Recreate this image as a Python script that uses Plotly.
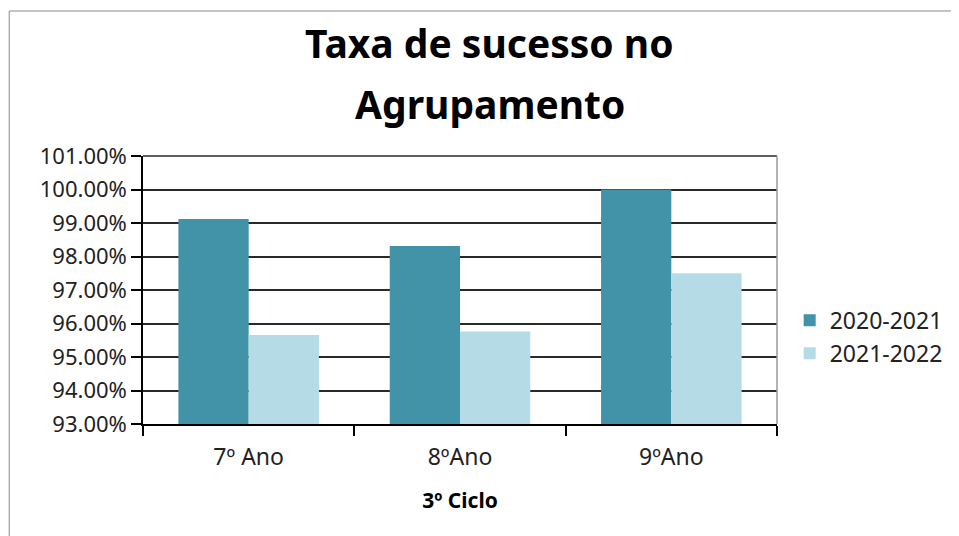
import plotly.graph_objects as go

# data (success rate, 3º ciclo)
anos = ['7º Ano', '8ºAno', '9ºAno']
taxa_2020_2021 = [0.9912, 0.9831, 1.0000]
taxa_2021_2022 = [0.9566, 0.9576, 0.9750]
y_ticks = [0.93, 0.94, 0.95, 0.96, 0.97, 0.98, 0.99, 1.00, 1.01]
titulo = ['Taxa de sucesso no', 'Agrupamento']

FONT = 'Noto Sans, sans-serif'

fig = go.Figure()
fig.add_trace(go.Bar(name='2020-2021', x=anos, y=taxa_2020_2021,
	marker=dict(color='#4292a8', line=dict(width=0))))
fig.add_trace(go.Bar(name='2021-2022', x=anos, y=taxa_2021_2022,
	marker=dict(color='#b5dce6', line=dict(width=0))))

# page body has an 8px margin, so the plot box is offset by that
fig.update_layout(
	barmode='group',
	bargap=0.335,
	bargroupgap=0,
	width=959, height=536,
	margin=dict(l=135, r=190, t=148, b=120, autoexpand=False),
	paper_bgcolor='white', plot_bgcolor='white',
	font=dict(family=FONT, size=22, color='#222'),
	legend=dict(x=1.02, xanchor='left', y=0.325, yanchor='middle',
		font=dict(size=23), itemwidth=30),
	showlegend=True,
)

# two-line title, placed as annotations (pixel rows ~42 and ~103)
for linha, ypx in zip(titulo, [42, 103]):
	fig.add_annotation(text=f'<b>{linha}</b>', xref='paper', yref='paper',
		x=0.547, y=(424 - ypx) / 268, xanchor='center', yanchor='middle',
		showarrow=False, font=dict(size=39, color='black', family=FONT))

fig.update_yaxes(range=[0.93, 1.01], tickvals=y_ticks, tickformat='.2%',
	showgrid=True, gridcolor='#2a2a2a', gridwidth=1.5,
	showline=True, linecolor='black', linewidth=1.5,
	ticks='outside', ticklen=10, tickcolor='black', tickwidth=1.5,
	zeroline=False, automargin=False)
fig.update_xaxes(tickson='boundaries', ticks='outside', ticklen=10,
	tickcolor='black', tickwidth=1.5, automargin=False,
	showline=True, linecolor='black', linewidth=1.5,
	tickfont=dict(size=23), ticklabelstandoff=12,
	title=dict(text='<b>3º Ciclo</b>', font=dict(size=21, color='black'), standoff=22))

# top gridline, right border of the plot area and outer frame of the chart
fig.add_shape(type='line', xref='paper', yref='paper', x0=0, x1=1, y0=1, y1=1,
	line=dict(color='#2a2a2a', width=1.5))
fig.add_shape(type='line', xref='paper', yref='paper', x0=1, x1=1, y0=0, y1=1,
	line=dict(color='#9a9a9a', width=1.5))
fig.add_shape(type='line', xref='paper', yref='paper', x0=-0.211, x1=-0.211, y0=-0.45, y1=1.541,
	line=dict(color='#8a8a8a', width=1))
fig.add_shape(type='line', xref='paper', yref='paper', x0=-0.211, x1=1.3, y0=1.541, y1=1.541,
	line=dict(color='#8a8a8a', width=1))

fig.write_html('out.html')
